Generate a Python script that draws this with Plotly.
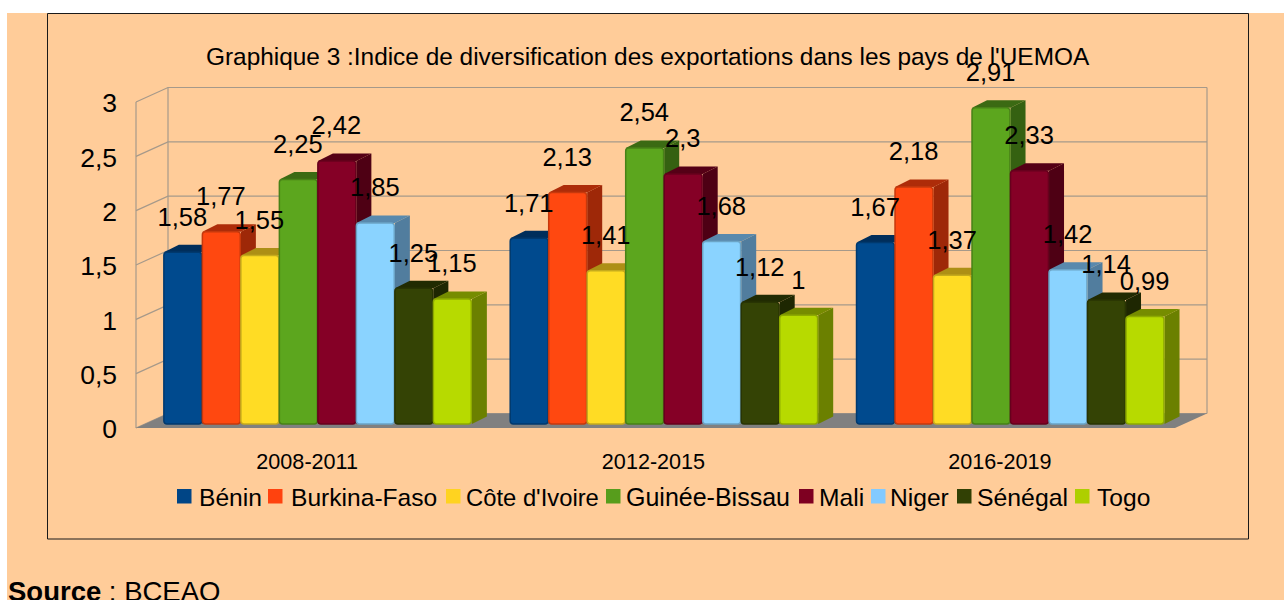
import plotly.graph_objects as go

periods = ["2008-2011", "2012-2015", "2016-2019"]
benin = [1.58, 1.71, 1.67]
burkina = [1.77, 2.13, 2.18]
cote_ivoire = [1.55, 1.41, 1.37]
guinee_bissau = [2.25, 2.54, 2.91]
mali = [2.42, 2.30, 2.33]
niger = [1.85, 1.68, 1.42]
senegal = [1.25, 1.12, 1.14]
togo = [1.15, 1.00, 0.99]
y_ticks = [0, 0.5, 1, 1.5, 2, 2.5, 3]
y_tick_labels = ["0", "0,5", "1", "1,5", "2", "2,5", "3"]
title_text = "Graphique 3 :Indice de diversification des exportations dans les pays de l'UEMOA"
source_text = "<b>Source</b> : BCEAO"

names = ["Bénin", "Burkina-Faso", "Côte d'Ivoire", "Guinée-Bissau", "Mali", "Niger", "Sénégal", "Togo"]
series = [benin, burkina, cote_ivoire, guinee_bissau, mali, niger, senegal, togo]
colors = ["#004586", "#ff420e", "#ffd320", "#579d1c", "#7e0021", "#83caff", "#314004", "#aecf00"]
front_colors = ["#004a8e", "#ff4810", "#ffdc24", "#5ca61e", "#850026", "#8ad3ff", "#344305", "#b7da00"]

W, H = 1284, 600
PEACH = "#ffcc99"
GRID = "#a6998a"
# pixel mapping: x = 0..3 categories over 136..1175, y = 0..3 over 428..102
X0, XU = 136.0, 1039.0 / 3
Y0, YU = 428.0, 326.0 / 3


def dx(px):
    return px / XU


def dy(px):
    return px / YU


def shade(hex_color, f):
    r, g, b = (int(hex_color[i:i + 2], 16) for i in (1, 3, 5))
    return f"rgb({int(r * f)},{int(g * f)},{int(b * f)})"


def poly(points):
    return "M " + " L ".join(f"{x:.5f},{y:.5f}" for x, y in points) + " Z"


WALL_DX, WALL_DY = dx(32), dy(14.5)
BAR_W = dx(38.5)
BAR_SHIFT = dx(8.7)
BAR_BASE = dy(4)
SIDE_DX, SIDE_DY = dx(15), dy(7.5)
LABEL_GAP = dy(33)

shapes = [
    dict(type="rect", xref="paper", yref="paper", x0=7 / W, x1=1, y0=0, y1=1 - 13 / H,
         fillcolor=PEACH, line_width=0, layer="below"),
    dict(type="rect", xref="paper", yref="paper", x0=47.5 / W, x1=1248.5 / W, y0=1 - 539 / H, y1=1 - 13.5 / H,
         fillcolor="rgba(0,0,0,0)", line=dict(color="#1a1a1a", width=1), layer="below"),
]

# walls and floor
for t in y_ticks:
    shapes.append(dict(type="path", layer="below", line=dict(color=GRID, width=1.2),
                       path=f"M 0,{t} L {WALL_DX:.5f},{t + WALL_DY:.5f} L {3 + WALL_DX:.5f},{t + WALL_DY:.5f}"))
for x_edge in (0, WALL_DX, 3 + WALL_DX):
    off = WALL_DY if x_edge else 0
    shapes.append(dict(type="line", layer="below", line=dict(color=GRID, width=1.2),
                       x0=x_edge, x1=x_edge, y0=off, y1=3 + off))
shapes.append(dict(type="path", layer="below", fillcolor="#808080", line_width=0,
                   path=poly([(0, 0), (3, 0), (3 + WALL_DX, WALL_DY), (WALL_DX, WALL_DY)])))

# depth faces of bars, computed from the values
for g in range(len(periods)):
    center = g + 0.5 + BAR_SHIFT
    for k, vals in enumerate(series):
        left = center + (k - 4) * BAR_W
        right = left + BAR_W
        top = BAR_BASE + vals[g]
        shapes.append(dict(type="path", layer="below", fillcolor=shade(colors[k], 0.62), line_width=0,
                           path=poly([(right, BAR_BASE), (right + SIDE_DX, BAR_BASE + SIDE_DY),
                                      (right + SIDE_DX, top + SIDE_DY), (right, top)])))
        shapes.append(dict(type="path", layer="below", fillcolor=shade(colors[k], 0.68), line_width=0,
                           path=poly([(left, top), (left + SIDE_DX, top + SIDE_DY),
                                      (right + SIDE_DX, top + SIDE_DY), (right, top)])))

fig = go.Figure()
group_x = [g + 0.5 + BAR_SHIFT for g in range(len(periods))]
for k, (name, vals, col) in enumerate(zip(names, series, front_colors)):
    fig.add_trace(go.Bar(name=name, x=group_x, y=vals, base=BAR_BASE, width=BAR_W - dx(0.6),
                         offset=(k - 4) * BAR_W,
                         marker=dict(color=col, cornerradius=3, line=dict(color=shade(col, 0.78), width=1.5)),
                         showlegend=False))

label_x, label_y, label_t = [], [], []
for k, vals in enumerate(series):
    for g, v in enumerate(vals):
        label_x.append(group_x[g] + (k - 3.5) * BAR_W - dx(0.7))
        label_y.append(BAR_BASE + v + LABEL_GAP)
        label_t.append(f"{v:g}".replace(".", ","))
fig.add_trace(go.Scatter(x=label_x, y=label_y, text=label_t, mode="text", showlegend=False,
                         textposition="middle center", textfont=dict(size=25.5, color="#000000"),
                         hoverinfo="skip"))

# legend
legend_sq = [177, 268, 446, 606, 799, 871, 957, 1075]
legend_tx = [197, 288.5, 464, 624, 817, 888, 975, 1095]
legend_sz = [24.6, 24.6, 23.8, 25.0, 24.6, 24.6, 24.8, 24.6]
annotations = []
for name, col, sx, tx, sz in zip(names, colors, legend_sq, legend_tx, legend_sz):
    shapes.append(dict(type="rect", xref="paper", yref="paper", x0=sx / W, x1=(sx + 14.5) / W,
                       y0=1 - 503.5 / H, y1=1 - 489 / H, fillcolor=col, line_width=0, layer="above"))
    annotations.append(dict(xref="paper", yref="paper", x=tx / W, y=1 - 497 / H, xanchor="left", yanchor="middle",
                            text=name, showarrow=False, font=dict(size=sz, color="#000000")))
annotations.append(dict(xref="paper", yref="paper", x=648 / W, y=1 - 57 / H, xanchor="center", yanchor="middle",
                        text=title_text, showarrow=False, font=dict(size=24.4, color="#000000")))
annotations.append(dict(xref="paper", yref="paper", x=8 / W, y=1 - 575 / H, xanchor="left", yanchor="top",
                        text=source_text, showarrow=False, xshift=-1, font=dict(size=27.5, color="#000000"),
                        borderpad=0))

fig.update_layout(
    width=W, height=H, margin=dict(l=0, r=0, t=0, b=0), paper_bgcolor="#ffffff", plot_bgcolor="rgba(0,0,0,0)",
    barmode="overlay", shapes=shapes, annotations=annotations, showlegend=False,
    font=dict(family="Liberation Sans, Arial, sans-serif", color="#000000"),
    xaxis=dict(domain=[0, 1], range=[-X0 / XU, (W - X0) / XU], showgrid=False, zeroline=False, showline=False,
               tickmode="array", tickvals=[g + 0.5 - dx(2) for g in range(len(periods))], ticktext=periods,
               tickfont=dict(size=21.6), ticks="", anchor="free", position=(H - 428) / H, ticklabelstandoff=18),
    yaxis=dict(domain=[0, 1], range=[(Y0 - H) / YU, Y0 / YU], showgrid=False, zeroline=False, showline=False,
               tickmode="array", tickvals=[t - dy(1) for t in y_ticks], ticktext=y_tick_labels,
               tickfont=dict(size=26.5), ticks="", anchor="free", position=X0 / W, ticklabelstandoff=19),
)

fig.write_html("out.html", config=dict(displayModeBar=False),
               post_script="document.body.style.margin='0';document.body.style.overflow='hidden';")
